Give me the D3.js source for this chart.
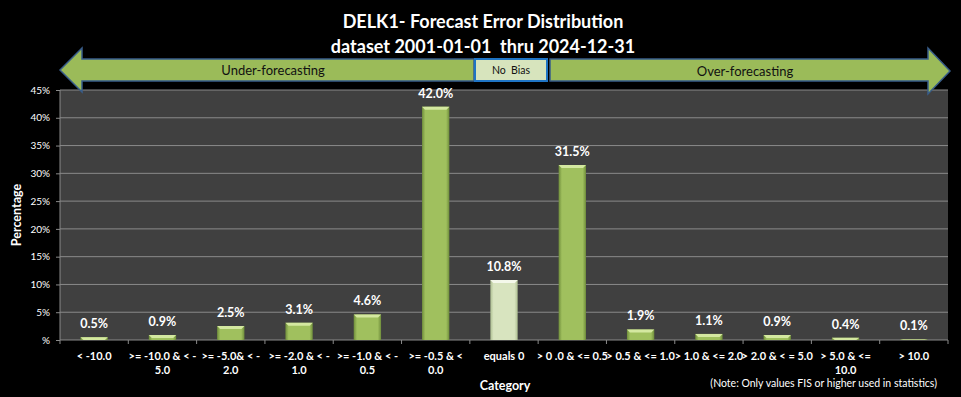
<!DOCTYPE html>
<html>
<head>
<meta charset="utf-8">
<script src="https://cdn.jsdelivr.net/npm/d3@7"></script>
<style>
  html, body { margin: 0; padding: 0; background: #000; }
  svg { display: block; font-family: Lato, "Open Sans", sans-serif; }
</style>
</head>
<body>
<main></main>
<script>
const categories = ["< -10.0", ">= -10.0 & < -5.0", ">= -5.0& < -2.0", ">= -2.0 & < -1.0", ">= -1.0 & < -0.5",
  ">= -0.5 & < 0.0", "equals 0", "> 0 .0 & <= 0.5", "> 0.5 & <= 1.0", "> 1.0 & <= 2.0", "> 2.0 & < = 5.0",
  "> 5.0 & <= 10.0", "> 10.0"];
const categoryLines = [["< -10.0"], [">= -10.0 & < -", "5.0"], [">= -5.0& < -", "2.0"], [">= -2.0 & < -", "1.0"],
  [">= -1.0 & < -", "0.5"], [">= -0.5 & <", "0.0"], ["equals 0"], ["> 0 .0 & <= 0.5"], ["> 0.5 & <= 1.0"],
  ["> 1.0 & <= 2.0"], ["> 2.0 & < = 5.0"], ["> 5.0 & <=", "10.0"], ["> 10.0"]];
const percentages = [0.5, 0.9, 2.5, 3.1, 4.6, 42.0, 10.8, 31.5, 1.9, 1.1, 0.9, 0.4, 0.1];
const valueLabels = ["0.5%", "0.9%", "2.5%", "3.1%", "4.6%", "42.0%", "10.8%", "31.5%", "1.9%", "1.1%", "0.9%", "0.4%", "0.1%"];
const yTicks = [0, 5, 10, 15, 20, 25, 30, 35, 40, 45];
const yTickLabels = ["%", "5%", "10%", "15%", "20%", "25%", "30%", "35%", "40%", "45%"];

const w = 961, h = 397,
  plot = {left: 60, right: 948, top: 90, bottom: 340};

const svg = d3.select("main").append("svg")
  .attr("width", w)
  .attr("height", h);

const defs = svg.append("defs");
function barGrad(id, dark, mid) {
  const g = defs.append("linearGradient").attr("id", id)
    .attr("x1", "0").attr("x2", "1").attr("y1", "0").attr("y2", "0");
  g.append("stop").attr("offset", "0%").attr("stop-color", dark);
  g.append("stop").attr("offset", "12%").attr("stop-color", mid);
  g.append("stop").attr("offset", "88%").attr("stop-color", mid);
  g.append("stop").attr("offset", "100%").attr("stop-color", dark);
}
barGrad("green", "#6f8d3b", "#a0c05e");
barGrad("pale", "#aebf92", "#d8e4bf");

svg.append("rect").attr("width", w).attr("height", h).attr("fill", "#000");

// title
svg.append("text")
  .attr("x", 483).attr("y", 28)
  .attr("text-anchor", "middle")
  .attr("fill", "#fff")
  .style("font-size", "18px").style("font-weight", "bold")
  .text("DELK1- Forecast Error Distribution");
svg.append("text")
  .attr("x", 483).attr("y", 53)
  .attr("text-anchor", "middle")
  .attr("fill", "#fff")
  .style("font-size", "18px").style("font-weight", "bold")
  .attr("xml:space", "preserve")
  .text("dataset 2001-01-01  thru 2024-12-31");

// scales
const xScale = d3.scaleBand()
  .domain(categories)
  .range([plot.left, plot.right])
  .paddingInner(0).paddingOuter(0);
const yScale = d3.scaleLinear()
  .domain([0, 45])
  .range([plot.bottom, plot.top]);

// plot area
svg.append("rect")
  .attr("x", plot.left).attr("y", plot.top)
  .attr("width", plot.right - plot.left).attr("height", plot.bottom - plot.top)
  .attr("fill", "#404040");

// grid
svg.append("g").selectAll("line")
  .data(yTicks.slice(1))
  .enter().append("line")
  .attr("x1", plot.left).attr("x2", plot.right)
  .attr("y1", d => yScale(d)).attr("y2", d => yScale(d))
  .attr("stroke", "#8a8a8a").attr("stroke-width", 1);

// y axis
const yAxis = d3.axisLeft(yScale)
  .tickValues(yTicks)
  .tickFormat((d, i) => yTickLabels[i])
  .tickSize(4).tickPadding(6);
const yg = svg.append("g")
  .attr("transform", "translate(" + plot.left + ",0)")
  .call(yAxis);
yg.select(".domain").attr("stroke", "#8a8a8a").attr("d", "M0," + plot.top + "V" + plot.bottom);
yg.selectAll(".tick line").attr("stroke", "#8a8a8a");
yg.selectAll(".tick text").attr("fill", "#fff").style("font-size", "10px").style("font-family", "Lato, sans-serif");

// x axis line and ticks between categories
svg.append("line")
  .attr("x1", plot.left).attr("x2", plot.right)
  .attr("y1", plot.bottom).attr("y2", plot.bottom)
  .attr("stroke", "#8a8a8a");
svg.append("g").selectAll("line")
  .data(categories.concat(["end"]))
  .enter().append("line")
  .attr("x1", (d, i) => i < categories.length ? xScale(d) : plot.right)
  .attr("x2", (d, i) => i < categories.length ? xScale(d) : plot.right)
  .attr("y1", plot.bottom).attr("y2", plot.bottom + 4)
  .attr("stroke", "#8a8a8a");

// x labels
const xl = svg.append("g").selectAll("text")
  .data(categories)
  .enter().append("text")
  .attr("x", d => xScale(d) + xScale.bandwidth() / 2)
  .attr("y", 360)
  .attr("text-anchor", "middle")
  .attr("fill", "#fff")
  .style("font-size", "11px").style("font-weight", "bold")
  .attr("xml:space", "preserve");
xl.selectAll("tspan")
  .data((d, i) => categoryLines[i])
  .enter().append("tspan")
  .attr("x", function() { return this.parentNode.getAttribute("x"); })
  .attr("dy", (d, i) => i === 0 ? 0 : 13.5)
  .text(d => d);

// bars
const barW = xScale.bandwidth() * 0.4;
const bars = svg.append("g").selectAll("g")
  .data(percentages)
  .enter().append("g");
bars.append("rect")
  .attr("x", (d, i) => xScale(categories[i]) + (xScale.bandwidth() - barW) / 2)
  .attr("y", d => yScale(d))
  .attr("width", barW)
  .attr("height", d => plot.bottom - yScale(d))
  .attr("fill", (d, i) => categories[i] === "equals 0" ? "url(#pale)" : "url(#green)");
bars.append("path")
  .attr("d", (d, i) => {
    const x0 = xScale(categories[i]) + (xScale.bandwidth() - barW) / 2, y0 = yScale(d);
    const b = Math.min(3, plot.bottom - y0);
    return "M" + x0 + "," + y0 + "H" + (x0 + barW) + "L" + (x0 + barW - 3) + "," + (y0 + b) + "H" + (x0 + 3) + "Z";
  })
  .attr("fill", (d, i) => categories[i] === "equals 0" ? "#f4f8ea" : "#d4e8a0");

// value labels
svg.append("g").selectAll("text")
  .data(percentages)
  .enter().append("text")
  .attr("x", (d, i) => xScale(categories[i]) + xScale.bandwidth() / 2)
  .attr("y", d => yScale(d) - 9)
  .attr("text-anchor", "middle")
  .attr("fill", "#fff")
  .style("font-size", "12.5px").style("font-weight", "bold")
  .text((d, i) => valueLabels[i]);

// axis titles
svg.append("text")
  .attr("transform", "translate(21," + ((plot.top + plot.bottom) / 2) + ") rotate(-90)")
  .attr("text-anchor", "middle")
  .attr("fill", "#fff")
  .style("font-size", "12.5px").style("font-weight", "bold")
  .text("Percentage");
svg.append("text")
  .attr("x", 505).attr("y", 390)
  .attr("text-anchor", "middle")
  .attr("fill", "#fff")
  .style("font-size", "12.5px").style("font-weight", "bold")
  .text("Category");
svg.append("text")
  .attr("x", 937).attr("y", 387)
  .attr("text-anchor", "end")
  .attr("fill", "#fff")
  .style("font-size", "10.5px")
  .text("(Note: Only values FIS or higher used in statistics)");

// bias arrows
const arrow = svg.append("g");
arrow.append("path")
  .attr("d", "M60,70 L82,48 L82,59 L474,59 L474,81 L82,81 L82,92 Z")
  .attr("fill", "#9bbb59").attr("stroke", "#385d8a").attr("stroke-width", 1.5).attr("stroke-linejoin", "miter");
arrow.append("path")
  .attr("d", "M550,59 L928,59 L928,48 L950,71 L928,94 L928,81 L550,81 Z")
  .attr("fill", "#9bbb59").attr("stroke", "#385d8a").attr("stroke-width", 1.5).attr("stroke-linejoin", "miter");
arrow.append("rect")
  .attr("x", 475).attr("y", 59).attr("width", 72).attr("height", 22)
  .attr("fill", "#d7e4bd").attr("stroke", "#1f74c4").attr("stroke-width", 2);
arrow.append("text")
  .attr("x", 273).attr("y", 75)
  .attr("text-anchor", "middle").attr("fill", "#111")
  .style("font-size", "13px")
  .text("Under-forecasting");
arrow.append("text")
  .attr("x", 745).attr("y", 76)
  .attr("text-anchor", "middle").attr("fill", "#111")
  .style("font-size", "13px")
  .text("Over-forecasting");
arrow.append("text")
  .attr("x", 511).attr("y", 74)
  .attr("text-anchor", "middle").attr("fill", "#111")
  .style("font-size", "10.5px")
  .attr("xml:space", "preserve")
  .text("No  Bias");
</script>
</body>
</html>
